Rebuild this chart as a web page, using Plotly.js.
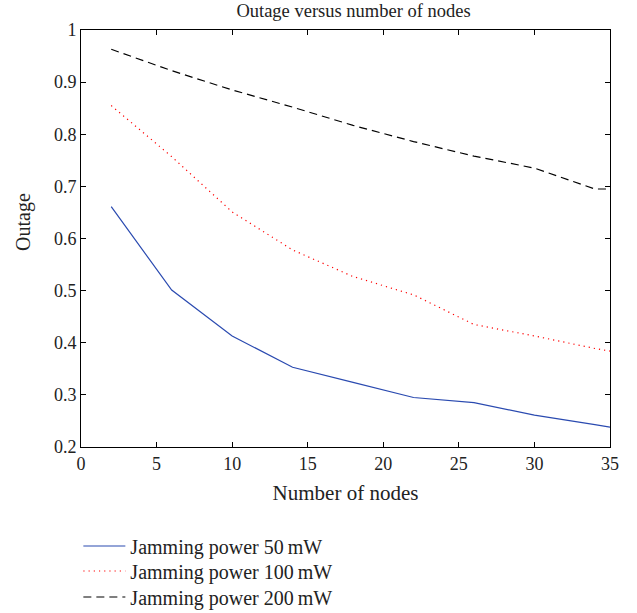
<!DOCTYPE html>
<html>
<head>
<meta charset="utf-8">
<script src="https://cdn.plot.ly/plotly-3.0.1.min.js"></script>
<style>html,body{margin:0;padding:0;background:#fff;}#chart{width:637px;height:613px;}</style>
</head>
<body>
<div id="chart"></div>
<script>
var nodes = [2, 6, 10, 14, 18, 22, 26, 30, 34, 35];
var outage50 = [0.661, 0.501, 0.413, 0.353, 0.324, 0.295, 0.285, 0.261, 0.243, 0.238];
var outage100 = [0.855, 0.757, 0.651, 0.578, 0.527, 0.492, 0.435, 0.413, 0.389, 0.384];
var outage200 = [0.963, 0.922, 0.885, 0.852, 0.817, 0.786, 0.758, 0.735, 0.695, 0.695];
var seriesNames = ["Jamming power 50\u2009mW", "Jamming power 100\u2009mW", "Jamming power 200\u2009mW"];
var xTicks = [0, 5, 10, 15, 20, 25, 30, 35];
var yTicks = [0.2, 0.3, 0.4, 0.5, 0.6, 0.7, 0.8, 0.9, 1];
var yTickLabels = ["0.2", "0.3", "0.4", "0.5", "0.6", "0.7", "0.8", "0.9", "1"];

var font = "Liberation Serif, DejaVu Serif, serif";
var traces = [
  {x: nodes, y: outage50, name: seriesNames[0], mode: "lines", legend: "legend", line: {color: "#2a4ab0", width: 1.2}},
  {x: nodes, y: outage100, name: seriesNames[1], mode: "lines", legend: "legend2", line: {color: "#ff0000", width: 1.2, dash: "1.2px,4px"}},
  {x: nodes, y: outage200, name: seriesNames[2], mode: "lines", legend: "legend3", line: {color: "#000000", width: 1.2, dash: "8px,5px"}}
];
var axisCommon = {
  showgrid: false, zeroline: false, showline: true, mirror: "ticks",
  linecolor: "#000", linewidth: 1, ticks: "inside", ticklen: 5, tickcolor: "#000",
  tickfont: {family: font, size: 18, color: "#222"}, automargin: false
};
function legendAt(yCenterPx) {
  return {x: -0.005, xanchor: "left", yref: "container", y: 1 - yCenterPx / 613, yanchor: "middle",
    font: {family: font, size: 20, color: "#222"}, bgcolor: "rgba(0,0,0,0)", itemwidth: 42};
}
var layout = {
  width: 637, height: 613,
  margin: {l: 81, r: 27, t: 30, b: 166},
  paper_bgcolor: "#fff", plot_bgcolor: "#fff",
  font: {family: font, color: "#222"},
  title: {text: "Outage versus number of nodes", font: {family: font, size: 18.5, color: "#222"}, x: 0.555, xanchor: "center", yref: "container", y: 1 - 11 / 613, yanchor: "middle"},
  xaxis: Object.assign({}, axisCommon, {range: [0, 35], tickvals: xTicks, title: {text: "Number of nodes", font: {family: font, size: 21, color: "#222"}, standoff: 12}}),
  yaxis: Object.assign({}, axisCommon, {range: [0.2, 1], tickvals: yTicks, ticktext: yTickLabels}),
  annotations: [{text: "Outage", textangle: -90, xref: "paper", yref: "paper", x: (23 - 81) / 529, y: (447 - 222) / 417,
    xanchor: "center", yanchor: "middle", showarrow: false, font: {family: font, size: 20, color: "#222"}}],
  showlegend: true,
  legend: legendAt(546),
  legend2: legendAt(571),
  legend3: legendAt(597)
};
Plotly.newPlot("chart", traces, layout, {displayModeBar: false, staticPlot: true});
</script>
</body>
</html>
